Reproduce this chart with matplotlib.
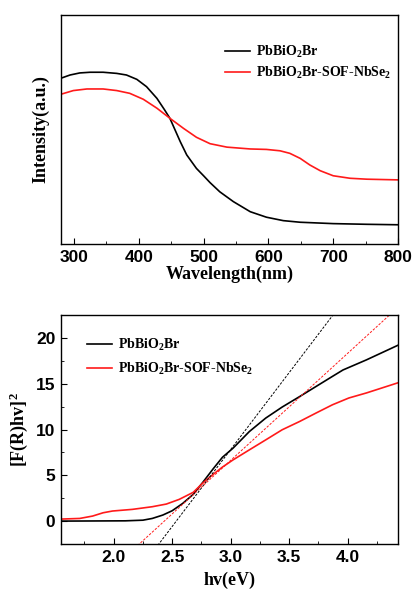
import matplotlib
matplotlib.use("Agg")
import matplotlib.pyplot as plt
from matplotlib.ticker import MultipleLocator
import numpy as np

# top panel: UV-vis absorption (arbitrary units)
wl = [280, 294, 309, 325, 345, 366, 381, 397, 412, 428, 440, 448, 456, 464, 474,
      489, 500, 510, 525, 546, 572, 597, 623, 649, 700, 752, 800]
abs_pbbiobr = [0.724, 0.738, 0.747, 0.750, 0.750, 0.745, 0.738, 0.719, 0.687, 0.636,
               0.585, 0.549, 0.498, 0.447, 0.389, 0.330, 0.298, 0.268, 0.228, 0.185,
               0.141, 0.117, 0.102, 0.095, 0.089, 0.086, 0.084]
wl_sof = [280, 299, 320, 345, 366, 386, 407, 428, 448, 469, 489, 510, 536, 572, 597,
          618, 633, 649, 664, 680, 700, 726, 752, 800]
abs_sof = [0.654, 0.670, 0.677, 0.677, 0.670, 0.658, 0.632, 0.593, 0.549, 0.505, 0.466,
           0.438, 0.423, 0.415, 0.413, 0.407, 0.396, 0.374, 0.345, 0.320, 0.298, 0.287,
           0.283, 0.280]

# bottom panel: Tauc plot
ev = [1.55, 2.1, 2.25, 2.33, 2.42, 2.5, 2.59, 2.68, 2.76, 2.85, 2.93, 3.02, 3.16,
      3.3, 3.44, 3.59, 3.73, 3.87, 3.96, 4.16, 4.43]
tauc_pbbiobr = [0.0, 0.03, 0.1, 0.29, 0.66, 1.13, 1.93, 2.92, 4.2, 5.7, 6.97, 7.96,
                9.78, 11.25, 12.45, 13.6, 14.7, 15.8, 16.5, 17.6, 19.2]
ev_sof = [1.55, 1.71, 1.82, 1.91, 1.99, 2.16, 2.33, 2.45, 2.56, 2.68, 2.76, 2.85,
          2.93, 3.02, 3.16, 3.3, 3.44, 3.59, 3.73, 3.87, 4.01, 4.16, 4.43]
tauc_sof = [0.22, 0.29, 0.55, 0.91, 1.1, 1.28, 1.57, 1.86, 2.37, 3.14, 4.13, 5.1,
            5.9, 6.68, 7.78, 8.87, 9.97, 10.88, 11.8, 12.7, 13.44, 13.99, 15.1]

# tangent lines: band gap (x intercept) and slope
eg = [2.535, 2.433]
slope = [16.8, 11.69]

labels = ["PbBiO$_2$Br", "PbBiO$_2$Br-SOF-NbSe$_2$"]
colors = ["black", "#ff1a1a"]

plt.rcParams["mathtext.fontset"] = "custom"
plt.rcParams["mathtext.rm"] = "Liberation Serif:bold"
plt.rcParams["mathtext.bf"] = "Liberation Serif:bold"
plt.rcParams["mathtext.default"] = "rm"
plt.rcParams["axes.linewidth"] = 1.0

W, H = 414, 597
fig = plt.figure(figsize=(W / 100, H / 100), dpi=100)

tick_font = dict(family="Liberation Sans", weight="bold", size=12.5)
label_font = dict(family="Liberation Serif", weight="bold", size=13)
leg_font = dict(family="Liberation Serif", weight="bold", size=10)

ax1 = fig.add_axes([61 / W, 1 - 244 / H, 337 / W, 229 / H])
ax1.plot(wl, abs_pbbiobr, color=colors[0], lw=1.2, label=labels[0])
ax1.plot(wl_sof, abs_sof, color=colors[1], lw=1.2, label=labels[1])
ax1.set_xlim(280, 800)
ax1.set_ylim(0, 1)
ax1.set_yticks([])
ax1.xaxis.set_major_locator(MultipleLocator(100))
ax1.xaxis.set_minor_locator(MultipleLocator(50))
ax1.tick_params(axis="x", which="both", direction="in", top=False)
ax1.tick_params(axis="x", which="major", length=4, pad=4)
ax1.tick_params(axis="x", which="minor", length=2.5)
for t in ax1.get_xticklabels():
    t.set(**tick_font)
ax1.set_xlabel("Wavelength(nm)", labelpad=1, **label_font)
ax1.set_ylabel("Intensity(a.u.)", labelpad=8, **label_font)
ax1.legend(loc="upper left", bbox_to_anchor=(0.45, 0.93), frameon=False,
           prop=leg_font, handlelength=1.8, handletextpad=0.45, labelspacing=0.35)

ax2 = fig.add_axes([61 / W, 1 - 544 / H, 337 / W, 229 / H])
ax2.plot(ev, tauc_pbbiobr, color=colors[0], lw=1.2, label=labels[0])
ax2.plot(ev_sof, tauc_sof, color=colors[1], lw=1.2, label=labels[1])
xs = np.array([1.5, 4.5])
for e, s, c in zip(eg, slope, colors):
    ax2.plot(xs, s * (xs - e), color=c, lw=0.7, ls=(0, (2.5, 1.5)))
ax2.set_xlim(1.55, 4.43)
ax2.set_ylim(-2.5, 22.5)
ax2.xaxis.set_major_locator(MultipleLocator(0.5))
ax2.xaxis.set_minor_locator(MultipleLocator(0.25))
ax2.yaxis.set_major_locator(MultipleLocator(5))
ax2.yaxis.set_minor_locator(MultipleLocator(2.5))
ax2.tick_params(which="both", direction="in", top=False, right=False)
ax2.tick_params(which="major", length=4, pad=4)
ax2.tick_params(which="minor", length=2.5)
for t in ax2.get_xticklabels() + ax2.get_yticklabels():
    t.set(**tick_font)
ax2.set_xlabel("hv(eV)", labelpad=5, **label_font)
ax2.set_ylabel("[F(R)hv]$^2$", labelpad=4, **label_font)
ax2.legend(loc="upper left", bbox_to_anchor=(0.04, 0.96), frameon=False,
           prop=leg_font, handlelength=1.8, handletextpad=0.45, labelspacing=0.6)

fig.savefig("out.png", dpi=100)
